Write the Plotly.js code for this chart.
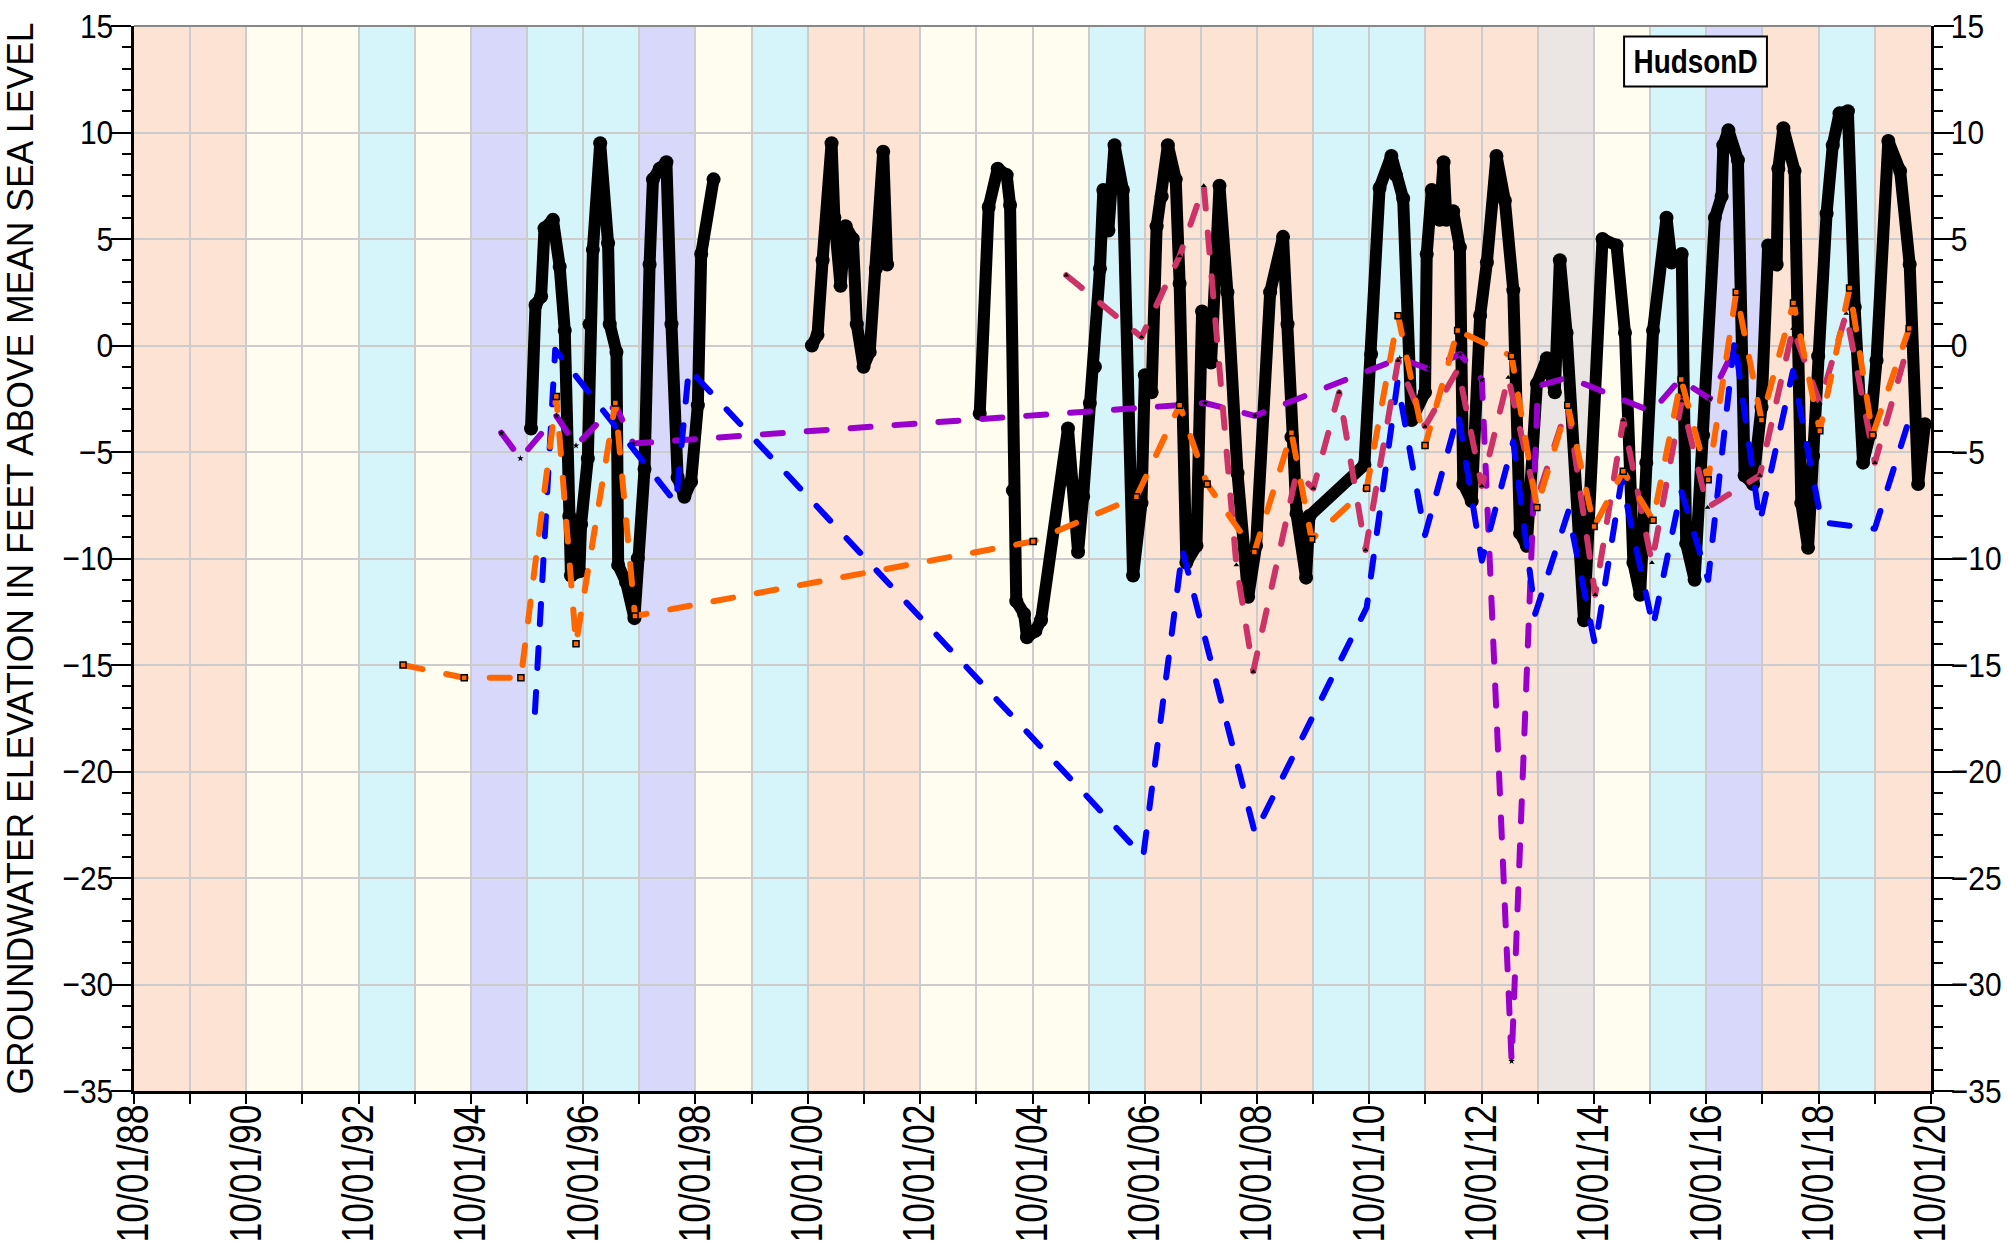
<!DOCTYPE html>
<html><head><meta charset="utf-8">
<script src="https://cdn.plot.ly/plotly-3.0.1.min.js"></script>
<style>html,body{margin:0;padding:0;background:#fff;}#chart{width:2008px;height:1251px;}</style>
</head><body><div id="chart"></div>
<script>
// Water-year background bands (start year of each water year, Oct 1) and their class
const bandStartYears = [1988,1989,1990,1991,1992,1993,1994,1995,1996,1997,1998,1999,2000,2001,2002,2003,2004,2005,2006,2007,2008,2009,2010,2011,2012,2013,2014,2015,2016,2017,2018,2019];
const bandClasses    = ['D','D','BN','BN','AN','BN','W','AN','AN','W','BN','AN','D','D','BN','BN','BN','AN','D','D','D','AN','AN','D','D','C','BN','AN','W','D','AN','D'];
const bandColors = {W:'#d8d8fa', AN:'#d5f5fb', BN:'#fffdef', D:'#fde3d3', C:'#ebe6e3'};

// Series (decimal years, elevations in ft)
const wellT = [1995.82,1995.90,1996.00,1996.06,1996.21,1996.33,1996.42,1996.50,1996.53,1996.68,1996.71,1996.83,1996.86,1996.92,1997.05,1997.19,1997.22,1997.34,1997.37,1997.51,1997.66,1997.72,1997.84,1997.93,1997.99,1998.11,1998.23,1998.32,1998.43,1998.55,1998.67,1998.79,1998.85,1999.07,
 null,
 2000.82,2000.92,2001.01,2001.17,2001.22,2001.33,2001.42,2001.55,2001.62,2001.74,2001.85,2001.96,2002.09,2002.16,
 null,
 2003.81,2003.97,2004.13,2004.29,2004.35,2004.40,2004.46,2004.60,2004.65,2004.80,2004.90,2005.38,2005.47,2005.56,2005.65,2005.77,2005.86,2005.95,2006.01,2006.10,2006.21,2006.36,2006.54,2006.69,2006.75,2006.87,2006.96,2007.05,2007.16,2007.30,2007.37,2007.49,2007.67,2007.77,2007.93,2008.08,2008.22,2008.40,2008.59,2008.73,2008.98,2009.21,2009.29,2009.36,2009.45,2009.62,2009.68,2010.66,2010.78,2010.93,2011.14,2011.22,2011.35,2011.50,2011.74,2011.77,2011.86,2012.00,2012.07,2012.12,2012.24,2012.36,2012.42,2012.57,2012.72,2012.84,2013.01,2013.16,2013.31,2013.43,2013.55,2013.73,2013.91,2014.05,2014.14,2014.26,2014.57,2014.90,2015.15,2015.30,2015.45,2015.57,2015.68,2015.80,2016.04,2016.13,2016.31,2016.39,2016.54,2016.69,2016.90,2017.02,2017.05,2017.14,2017.31,2017.43,2017.58,2017.73,2017.85,2018.00,2018.03,2018.12,2018.32,2018.44,2018.56,2018.65,2018.74,2018.89,2019.00,2019.12,2019.27,2019.39,2019.54,2019.66,2019.78,2019.99,2020.20,2020.37,2020.52,2020.64];
const wellV = [-3.9,1.9,2.3,5.5,5.9,3.7,0.7,-8.0,-10.8,-10.6,-8.4,-5.3,1.0,4.5,9.5,4.8,1.0,-0.3,-10.3,-11.1,-12.8,-10.0,-5.8,3.8,7.8,8.3,8.6,1.0,-6.2,-7.1,-6.4,-2.8,4.3,7.8,
 null,
 0.0,0.5,4.0,9.5,6.0,2.8,5.6,5.0,1.0,-1.0,-0.3,3.6,9.1,3.8,
 null,
 -3.2,6.5,8.3,8.0,6.6,-6.8,-12.0,-12.6,-13.7,-13.4,-12.9,-3.9,-6.5,-9.7,-7.1,-2.7,-1.0,3.6,7.3,5.4,9.4,7.3,-10.8,-7.4,-1.4,-2.2,5.6,7.0,9.4,7.8,2.9,-10.2,-9.4,1.6,-0.8,7.5,2.5,-6.0,-11.8,-9.4,2.5,5.1,1.0,-4.3,-7.9,-10.9,-8.0,-5.6,-0.4,7.4,8.9,8.0,6.9,-3.5,-2.2,4.3,7.3,5.9,8.6,5.9,6.3,4.6,-6.5,-7.3,1.4,3.9,8.9,6.8,2.6,-8.8,-9.4,-1.8,-0.6,-2.2,4.0,0.6,-12.9,5.0,4.7,0.6,-10.2,-11.7,-5.5,0.7,6.0,3.9,4.3,-9.3,-11.0,-4.2,6.0,7.0,9.4,10.1,8.7,-6.1,-6.5,-2.9,4.7,3.8,8.3,10.2,8.2,-7.4,-9.5,-5.2,-0.5,6.2,9.4,10.9,11.0,1.8,-5.5,-4.2,-0.7,9.6,8.2,3.8,-6.5,-3.7];

const orangeT = [1993.54,1994.63,1995.64,1996.27,1996.62,1997.32,1997.67,2004.76,2006.60,2007.37,2007.86,2008.70,2009.36,2009.72,2010.70,2011.26,2011.74,2012.32,2013.28,2013.73,2014.28,2014.75,2015.27,2015.80,2016.30,2016.78,2017.28,2017.73,2018.30,2018.77,2019.30,2019.71,2020.36];
const orangeV = [-15.0,-15.6,-15.6,-2.4,-14.0,-2.7,-12.7,-9.2,-7.1,-2.8,-6.5,-9.7,-4.1,-9.1,-6.7,1.4,-4.7,0.7,-0.5,-7.6,-2.8,-8.5,-5.9,-8.2,-1.6,-6.3,2.5,-3.5,2.0,-4.0,2.7,-4.2,0.8];

const blueT = [1995.89,1996.25,1998.40,1998.63,2006.72,2007.42,2008.71,2010.70,2011.25,2011.74,2012.33,2012.75,2013.31,2013.70,2014.29,2014.77,2015.24,2015.80,2016.30,2016.78,2017.25,2017.70,2018.29,2018.80,2019.75,2020.43];
const blueV = [-17.2,-0.2,-7.4,-1.1,-24.0,-9.6,-22.9,-12.3,-1.7,-8.9,-3.2,-10.1,-4.5,-12.6,-7.8,-14.1,-6.3,-13.2,-6.8,-11.0,0.3,-8.3,-1.2,-8.3,-8.6,-2.9];

const purpleT = [1995.29,1995.63,1996.27,1996.62,1997.32,1997.64,2007.36,2007.82,2008.71,2011.29,2011.80,2012.36,2012.75,2013.28,2013.75,2014.29,2015.78,2016.28,2016.81,2017.20];
const purpleV = [-4.1,-5.3,-3.3,-4.7,-2.8,-4.6,-2.8,-2.7,-3.3,-0.6,-1.1,-0.4,-1.6,-33.6,-1.9,-1.5,-3.1,-1.6,-2.5,-0.4];

const pinkT = [2005.35,2006.69,2007.37,2007.80,2008.38,2008.68,2009.45,2009.75,2010.21,2010.68,2011.26,2011.74,2012.33,2012.75,2013.22,2013.72,2014.28,2014.77,2015.27,2015.78,2016.31,2016.77,2017.70,2018.29,2018.77,2019.24,2019.75,2020.34];
const pinkV = [3.3,0.4,4.2,7.5,-10.3,-15.3,-6.0,-6.7,-2.2,-9.6,-0.7,-3.8,-1.1,-6.6,-1.5,-7.3,-2.8,-11.7,-3.5,-10.2,-2.6,-7.6,-6.1,0.8,-2.7,1.5,-5.5,0.0];

const wellName = 'HudsonD';
const yTitle = 'GROUNDWATER ELEVATION IN FEET ABOVE MEAN SEA LEVEL';

function toDate(t){
  if(t===null) return null;
  const y=Math.floor(t), a=Date.UTC(y,0,1), b=Date.UTC(y+1,0,1);
  return new Date(a+(t-y)*(b-a)).toISOString().slice(0,19).replace('T',' ');
}
const FONT = '"Liberation Sans", Arial, sans-serif';
const DASH = '20px,24px';

const traces = [
  {x: wellT.map(toDate), y: wellV, mode:'lines+markers', connectgaps:false,
   line:{color:'#000', width:12}, marker:{color:'#000', size:14, symbol:'circle'}},
  {x: purpleT.map(toDate), y: purpleV, mode:'lines+markers',
   line:{color:'#9900cc', width:6, dash:DASH}, marker:{color:'#000', size:5, symbol:'star'}},
  {x: blueT.map(toDate), y: blueV, mode:'lines',
   line:{color:'#0000ff', width:6, dash:DASH}},
  {x: pinkT.map(toDate), y: pinkV, mode:'lines+markers',
   line:{color:'#cc3366', width:6, dash:DASH}, marker:{color:'#000', size:5, symbol:'triangle-up'}},
  {x: orangeT.map(toDate), y: orangeV, mode:'lines+markers',
   line:{color:'#ff6600', width:6, dash:DASH}, marker:{color:'#ff6600', size:6, symbol:'square', line:{color:'#000', width:1.5}}},
  {x: [], y: [], yaxis:'y2', mode:'lines', showlegend:false}
];

const shapes = bandStartYears.map((y,i)=>({
  type:'rect', xref:'x', yref:'paper', x0:`${y}-10-01`, x1:`${y+1}-10-01`, y0:0, y1:1,
  fillcolor: bandColors[bandClasses[i]], line:{width:0}, layer:'below'
}));
shapes.push({type:'line', xref:'paper', yref:'paper', x0:0, x1:1, y0:1, y1:1, line:{color:'#888', width:2}});
shapes.push({type:'rect', xref:'paper', yref:'paper', x0:0.8292, x1:0.9087, y0:0.9433, y1:0.9902,
  fillcolor:'#fff', line:{color:'#000', width:2}, layer:'above'});

const yCommon = {
  range:[-35,15], tick0:0, dtick:5, ticks:'outside', ticklen:20, tickwidth:2, tickcolor:'#000',
  minor:{dtick:1, ticks:'outside', ticklen:9, tickwidth:2, tickcolor:'#000', showgrid:false},
  showline:true, linecolor:'#000', linewidth:3, zeroline:false,
  tickfont:{family:FONT, size:34, color:'#000'}
};

const layout = {
  width:2008, height:1251, margin:{l:134, r:77, t:26, b:160},
  paper_bgcolor:'#fff', plot_bgcolor:'#fff', showlegend:false,
  xaxis:{type:'date', range:['1988-10-01','2020-10-01'], tick0:'1988-10-01', dtick:'M24',
    tickformat:'%m/%d/%y', tickangle:-90, ticks:'outside', ticklen:10, tickwidth:2, tickcolor:'#000',
    ticklabelstandoff:-17,
    showline:true, linecolor:'#000', linewidth:3, showgrid:true, gridcolor:'#cccccc', gridwidth:2, zeroline:false,
    minor:{dtick:'M12', tick0:'1988-10-01', ticks:'outside', ticklen:10, tickwidth:2, tickcolor:'#000', showgrid:true, gridcolor:'#cccccc', gridwidth:2},
    tickfont:{family:FONT, size:44, color:'#000'}},
  yaxis:Object.assign({}, yCommon, {showgrid:true, gridcolor:'#cccccc', gridwidth:2, ticklabelstandoff:-9,
    title:{text:yTitle, font:{family:FONT, size:36, color:'#000'}, standoff:24}}),
  yaxis2:Object.assign({}, yCommon, {overlaying:'y', side:'right', showgrid:false, ticklabelstandoff:-10}),
  shapes: shapes,
  annotations:[{xref:'paper', yref:'paper', x:0.8689, y:0.9667, xanchor:'center', yanchor:'middle',
    text:wellName, showarrow:false, font:{family:FONT, size:34, color:'#000', weight:'bold'}}]
};

// Condense text horizontally (the reference uses a narrow face that is not installed)
function squash(sel, f, fixed){
  document.querySelectorAll(sel).forEach(t=>{
    if(t.getAttribute('lengthAdjust')) return;
    const L = t.getComputedTextLength();
    if(!L) return;
    t.setAttribute('textLength', (fixed ? fixed : L*f).toFixed(1));
    t.setAttribute('lengthAdjust','spacingAndGlyphs');
  });
}
function condense(){
  squash('g.xtick text', 0, 138);
  squash('g.ytick text', 0.88);
  squash('g.y2tick text', 0.88);
  squash('text.ytitle', 0, 1072);
  squash('text.annotation-text', 0, 124);
  document.querySelectorAll('.scatterlayer path.js-line').forEach(p=>{
    p.style.strokeLinecap='round'; p.style.strokeLinejoin='round';
  });
}

const gd = document.getElementById('chart');
Plotly.newPlot(gd, traces, layout, {displayModeBar:false, staticPlot:true}).then(()=>{
  condense();
  [50,200,500].forEach(ms=>setTimeout(condense, ms));
});
</script></body></html>
